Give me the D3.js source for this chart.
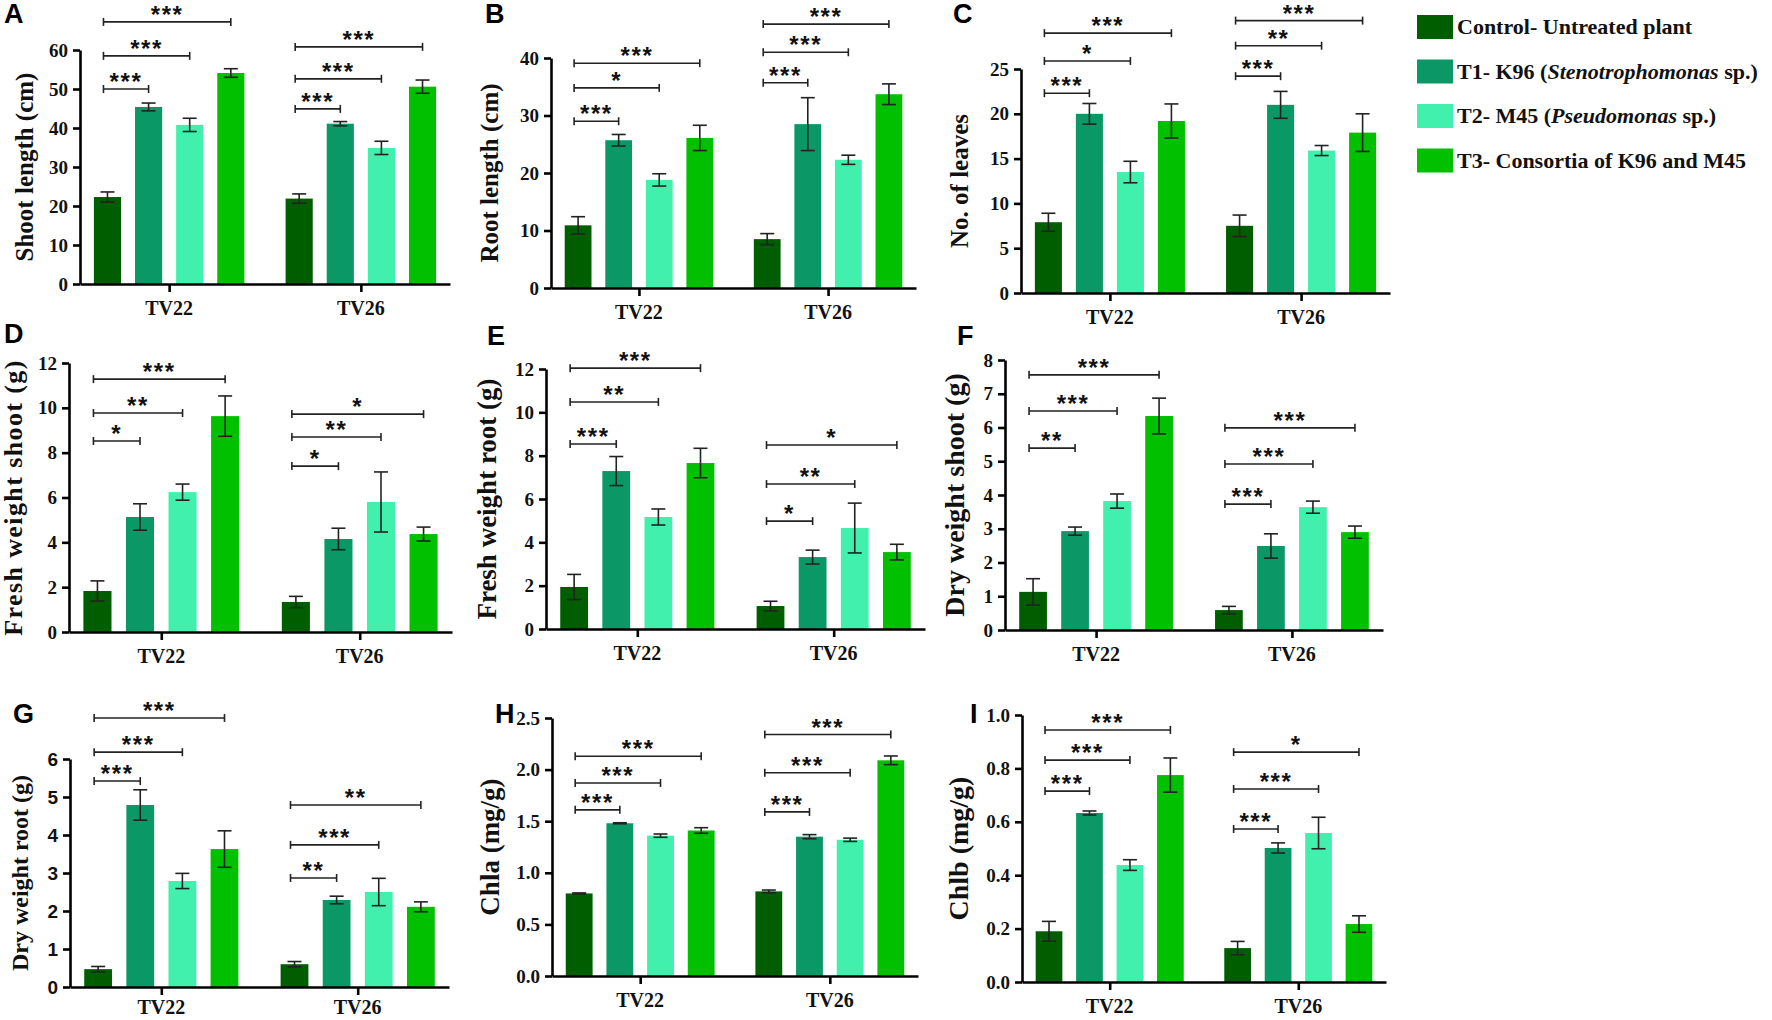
<!DOCTYPE html>
<html>
<head>
<meta charset="utf-8">
<script src="https://cdn.jsdelivr.net/npm/d3@7"></script>
<style>
  body { margin: 0; background: #fff; }
  svg { display: block; }
</style>
</head>
<body>
<div id="chart"></div>
<script>
// groups and treatments
const groups = ["TV22", "TV26"];
const treatments = ["Control", "T1", "T2", "T3"];
const colors = ["#005e00", "#0a9866", "#42f0ae", "#00c000"];
const legendLabels = [
  [["Control- Untreated plant", false]],
  [["T1- K96 (", false], ["Stenotrophomonas", true], [" sp.)", false]],
  [["T2- M45 (", false], ["Pseudomonas", true], [" sp.)", false]],
  [["T3- Consortia of K96 and M45", false]]
];

// A - shoot length
const shootLength    = [[22.3, 45.4, 40.8, 54.1], [21.9, 41.1, 34.9, 50.6]];
const shootLengthErr = [[1.3, 1.0, 1.7, 1.1], [1.2, 0.55, 1.7, 1.7]];
const shootLengthSig = [["***", "***", "***"], ["***", "***", "***"]];
const shootLengthSigY = [[50, 58.5, 67.2], [44.9, 52.6, 60.8]];

// B - root length
const rootLength    = [[10.9, 25.7, 18.8, 26.1], [8.5, 28.5, 22.3, 33.7]];
const rootLengthErr = [[1.5, 1.0, 1.07, 2.2], [0.96, 4.6, 0.8, 1.8]];
const rootLengthSig = [["***", "*", "***"], ["***", "***", "***"]];
const rootLengthSigY = [[29.0, 34.8, 39.1], [35.7, 41.0, 45.9]];

// C - number of leaves
const leaves    = [[7.9, 20.0, 13.5, 19.2], [7.5, 21.0, 15.9, 17.9]];
const leavesErr = [[1.0, 1.15, 1.2, 1.9], [1.2, 1.5, 0.56, 2.1]];
const leavesSig = [["***", "*", "***"], ["***", "**", "***"]];
const leavesSigY = [[22.3, 25.9, 29.0], [24.2, 27.6, 30.4]];

// D - fresh weight shoot
const freshShoot    = [[1.83, 5.13, 6.24, 9.63], [1.34, 4.15, 5.8, 4.37]];
const freshShootErr = [[0.45, 0.59, 0.36, 0.9], [0.25, 0.48, 1.34, 0.31]];
const freshShootSig = [["*", "**", "***"], ["*", "**", "*"]];
const freshShootSigY = [[8.52, 9.77, 11.28], [7.40, 8.70, 9.72]];

// E - fresh weight root
const freshRoot    = [[1.94, 7.29, 5.17, 7.66], [1.06, 3.32, 4.66, 3.55]];
const freshRootErr = [[0.58, 0.67, 0.37, 0.68], [0.22, 0.32, 1.15, 0.36]];
const freshRootSig = [["***", "**", "***"], ["*", "**", "*"]];
const freshRootSigY = [[8.54, 10.48, 12.04], [4.98, 6.69, 8.49]];

// F - dry weight shoot
const dryShoot    = [[1.13, 2.93, 3.82, 6.34], [0.59, 2.49, 3.64, 2.9]];
const dryShootErr = [[0.39, 0.12, 0.21, 0.53], [0.11, 0.36, 0.18, 0.18]];
const dryShootSig = [["**", "***", "***"], ["***", "***", "***"]];
const dryShootSigY = [[5.39, 6.49, 7.56], [3.73, 4.92, 5.99]];

// G - dry weight root
const dryRoot    = [[0.47, 4.79, 2.79, 3.63], [0.6, 2.29, 2.5, 2.11]];
const dryRootErr = [[0.07, 0.4, 0.2, 0.48], [0.07, 0.1, 0.36, 0.13]];
const dryRootSig = [["***", "***", "***"], ["**", "***", "**"]];
const dryRootSigY = [[5.42, 6.18, 7.08], [2.87, 3.74, 4.79]];

// H - chlorophyll a
const chla    = [[0.80, 1.48, 1.36, 1.41], [0.82, 1.35, 1.32, 2.09]];
const chlaErr = [[0.005, 0.005, 0.016, 0.027], [0.013, 0.02, 0.016, 0.042]];
const chlaSig = [["***", "***", "***"], ["***", "***", "***"]];
const chlaSigY = [[1.61, 1.87, 2.13], [1.59, 1.97, 2.34]];

// I - chlorophyll b
const chlb    = [[0.19, 0.633, 0.438, 0.775], [0.127, 0.502, 0.558, 0.217]];
const chlbErr = [[0.037, 0.0075, 0.02, 0.064], [0.025, 0.019, 0.059, 0.031]];
const chlbSig = [["***", "***", "***"], ["***", "***", "*"]];
const chlbSigY = [[0.715, 0.831, 0.944], [0.573, 0.723, 0.861]];

// panel layout (pixels)
const panels = [
  {id: "A", title: "Shoot length (cm)", mean: shootLength, err: shootLengthErr, sig: shootLengthSig, sigY: shootLengthSigY,
   max: 60, step: 10, x0: 80, x1: 450, yTop: 50, y0: 284, lx: 4, ly: 23, tx: 33, ts: 25},
  {id: "B", title: "Root length (cm)", mean: rootLength, err: rootLengthErr, sig: rootLengthSig, sigY: rootLengthSigY,
   max: 40, step: 10, x0: 551, x1: 916, yTop: 58, y0: 288, lx: 485, ly: 23, tx: 498, ts: 25},
  {id: "C", title: "No. of leaves", mean: leaves, err: leavesErr, sig: leavesSig, sigY: leavesSigY,
   max: 25, step: 5, x0: 1021, x1: 1390, yTop: 69, y0: 293, lx: 953, ly: 23, tx: 968, ts: 25},
  {id: "D", title: "Fresh weight shoot (g)", mean: freshShoot, err: freshShootErr, sig: freshShootSig, sigY: freshShootSigY,
   max: 12, step: 2, x0: 69, x1: 452, yTop: 363, y0: 632, lx: 4, ly: 343, tx: 22, ts: 26, ls: 1.4},
  {id: "E", title: "Fresh weight root (g)", mean: freshRoot, err: freshRootErr, sig: freshRootSig, sigY: freshRootSigY,
   max: 12, step: 2, x0: 546, x1: 925, yTop: 369, y0: 629, lx: 487, ly: 345, tx: 496, ts: 27},
  {id: "F", title: "Dry weight shoot (g)", mean: dryShoot, err: dryShootErr, sig: dryShootSig, sigY: dryShootSigY,
   max: 8, step: 1, x0: 1005, x1: 1383, yTop: 360, y0: 630, lx: 957, ly: 345, tx: 964, ts: 28},
  {id: "G", title: "Dry weight root (g)", mean: dryRoot, err: dryRootErr, sig: dryRootSig, sigY: dryRootSigY,
   max: 6, step: 1, x0: 70, x1: 449, yTop: 759, y0: 987, lx: 13, ly: 723, tx: 28, ts: 24, sansTicks: true},
  {id: "H", title: "Chla (mg/g)", mean: chla, err: chlaErr, sig: chlaSig, sigY: chlaSigY,
   max: 2.5, step: 0.5, x0: 552, x1: 918, yTop: 718, y0: 976, lx: 495, ly: 723, tx: 499, ts: 27, fmt: ".1f"},
  {id: "I", title: "Chlb (mg/g)", mean: chlb, err: chlbErr, sig: chlbSig, sigY: chlbSigY,
   max: 1.0, step: 0.2, x0: 1022, x1: 1386, yTop: 715, y0: 982, lx: 970, ly: 723, tx: 968, ts: 28, fmt: ".1f"}
];

const width = 1772;
const height = 1020;
const serif = "'Liberation Serif', 'Times New Roman', serif";
const sans = "'Liberation Sans', Arial, sans-serif";
const ink = "#222";

const svg = d3.select("#chart").append("svg")
  .attr("width", width)
  .attr("height", height);

panels.forEach(drawPanel);
drawLegend();

function drawPanel(p) {
  const g = svg.append("g");

  // scales
  const x = d3.scalePoint().domain(groups).range([p.x0, p.x1]).padding(0.465);
  const span = x.step() * 0.785;
  const inner = d3.scaleBand().domain(treatments).range([-span / 2, span / 2]).paddingInner(0.34);
  const y = d3.scaleLinear().domain([0, p.max]).range([p.y0, p.yTop]);
  const bw = inner.bandwidth();
  const cx = (gi, ti) => x(groups[gi]) + inner(treatments[ti]) + bw / 2;

  // bars
  groups.forEach(function(grp, gi) {
    g.selectAll(".bar-" + gi)
      .data(p.mean[gi])
      .enter()
      .append("rect")
      .attr("x", (d, i) => x(grp) + inner(treatments[i]))
      .attr("y", d => y(d))
      .attr("width", bw)
      .attr("height", d => y(0) - y(d))
      .attr("fill", (d, i) => colors[i]);

    // error bars
    const eb = g.selectAll(".err-" + gi)
      .data(p.mean[gi].map((m, i) => ({m: m, e: p.err[gi][i], i: i})))
      .enter()
      .append("g")
      .attr("stroke", ink)
      .attr("stroke-width", 1.6);
    eb.append("line")
      .attr("x1", d => cx(gi, d.i)).attr("x2", d => cx(gi, d.i))
      .attr("y1", d => y(d.m - d.e)).attr("y2", d => y(d.m + d.e));
    eb.append("line")
      .attr("x1", d => cx(gi, d.i) - 7).attr("x2", d => cx(gi, d.i) + 7)
      .attr("y1", d => y(d.m + d.e)).attr("y2", d => y(d.m + d.e));
    eb.append("line")
      .attr("x1", d => cx(gi, d.i) - 7).attr("x2", d => cx(gi, d.i) + 7)
      .attr("y1", d => y(d.m - d.e)).attr("y2", d => y(d.m - d.e));

    // significance brackets (control vs T1, T2, T3)
    const br = g.selectAll(".sig-" + gi)
      .data(p.sig[gi].map((s, k) => ({s: s, yv: p.sigY[gi][k], t: k + 1})))
      .enter()
      .append("g");
    const xs = cx(gi, 0) - 4;
    br.append("line")
      .attr("x1", xs).attr("x2", d => cx(gi, d.t))
      .attr("y1", d => y(d.yv)).attr("y2", d => y(d.yv))
      .attr("stroke", ink).attr("stroke-width", 1.6);
    br.append("line")
      .attr("x1", xs).attr("x2", xs)
      .attr("y1", d => y(d.yv) - 4).attr("y2", d => y(d.yv) + 4)
      .attr("stroke", ink).attr("stroke-width", 1.6);
    br.append("line")
      .attr("x1", d => cx(gi, d.t)).attr("x2", d => cx(gi, d.t))
      .attr("y1", d => y(d.yv) - 4).attr("y2", d => y(d.yv) + 4)
      .attr("stroke", ink).attr("stroke-width", 1.6);
    br.append("text")
      .attr("x", d => (xs + cx(gi, d.t)) / 2)
      .attr("y", d => y(d.yv) + 1)
      .attr("text-anchor", "middle")
      .attr("font-family", sans)
      .attr("font-weight", "bold")
      .attr("font-size", 24)
      .attr("letter-spacing", 1.6)
      .attr("fill", "#111")
      .text(d => d.s);
  });

  // y axis
  const ticks = d3.range(0, p.max + p.step / 2, p.step);
  const yAxis = d3.axisLeft(y)
    .tickValues(ticks)
    .tickSize(7)
    .tickSizeOuter(0)
    .tickPadding(5)
    .tickFormat(p.fmt ? d3.format(p.fmt) : d3.format("d"));
  const ya = g.append("g")
    .attr("transform", "translate(" + p.x0 + ",0)")
    .call(yAxis);
  ya.selectAll("text")
    .attr("font-family", p.sansTicks ? sans : serif)
    .attr("font-weight", "bold")
    .attr("font-size", 19)
    .attr("fill", "#111");

  // x axis
  const xa = g.append("g")
    .attr("transform", "translate(0," + p.y0 + ")")
    .call(d3.axisBottom(x).tickSize(8).tickSizeOuter(0).tickFormat(""));

  [ya, xa].forEach(function(a) {
    a.select(".domain").attr("stroke", "#000").attr("stroke-width", 2.6);
    a.selectAll(".tick line").attr("stroke", "#000").attr("stroke-width", 2.6);
  });

  // group labels
  g.selectAll(".grp")
    .data(groups)
    .enter()
    .append("text")
    .attr("x", d => x(d))
    .attr("y", Math.min(p.y0 + 31, 1014))
    .attr("text-anchor", "middle")
    .attr("font-family", serif)
    .attr("font-weight", "bold")
    .attr("font-size", 20)
    .attr("fill", "#111")
    .text(d => d);

  // y title
  g.append("text")
    .attr("transform", "translate(" + p.tx + "," + ((p.y0 + p.yTop) / 2) + ") rotate(-90)")
    .attr("text-anchor", "middle")
    .attr("font-family", serif)
    .attr("font-weight", "bold")
    .attr("font-size", p.ts)
    .attr("letter-spacing", p.ls || 0)
    .attr("fill", "#111")
    .text(p.title);

  // panel letter
  g.append("text")
    .attr("x", p.lx)
    .attr("y", p.ly)
    .attr("font-family", sans)
    .attr("font-weight", "bold")
    .attr("font-size", 27)
    .attr("fill", "#000")
    .text(p.id);
}

function drawLegend() {
  const lg = svg.append("g").attr("transform", "translate(1417,15)");
  const row = lg.selectAll(".leg")
    .data(legendLabels)
    .enter()
    .append("g")
    .attr("transform", (d, i) => "translate(0," + (i * 44.5) + ")");
  row.append("rect")
    .attr("width", 36)
    .attr("height", 24)
    .attr("fill", (d, i) => colors[i]);
  const t = row.append("text")
    .attr("x", 40)
    .attr("y", 19)
    .attr("font-family", serif)
    .attr("font-weight", "bold")
    .attr("font-size", 22)
    .attr("fill", "#111");
  t.selectAll("tspan")
    .data(d => d)
    .enter()
    .append("tspan")
    .attr("font-style", d => d[1] ? "italic" : "normal")
    .text(d => d[0]);
}
</script>
</body>
</html>
